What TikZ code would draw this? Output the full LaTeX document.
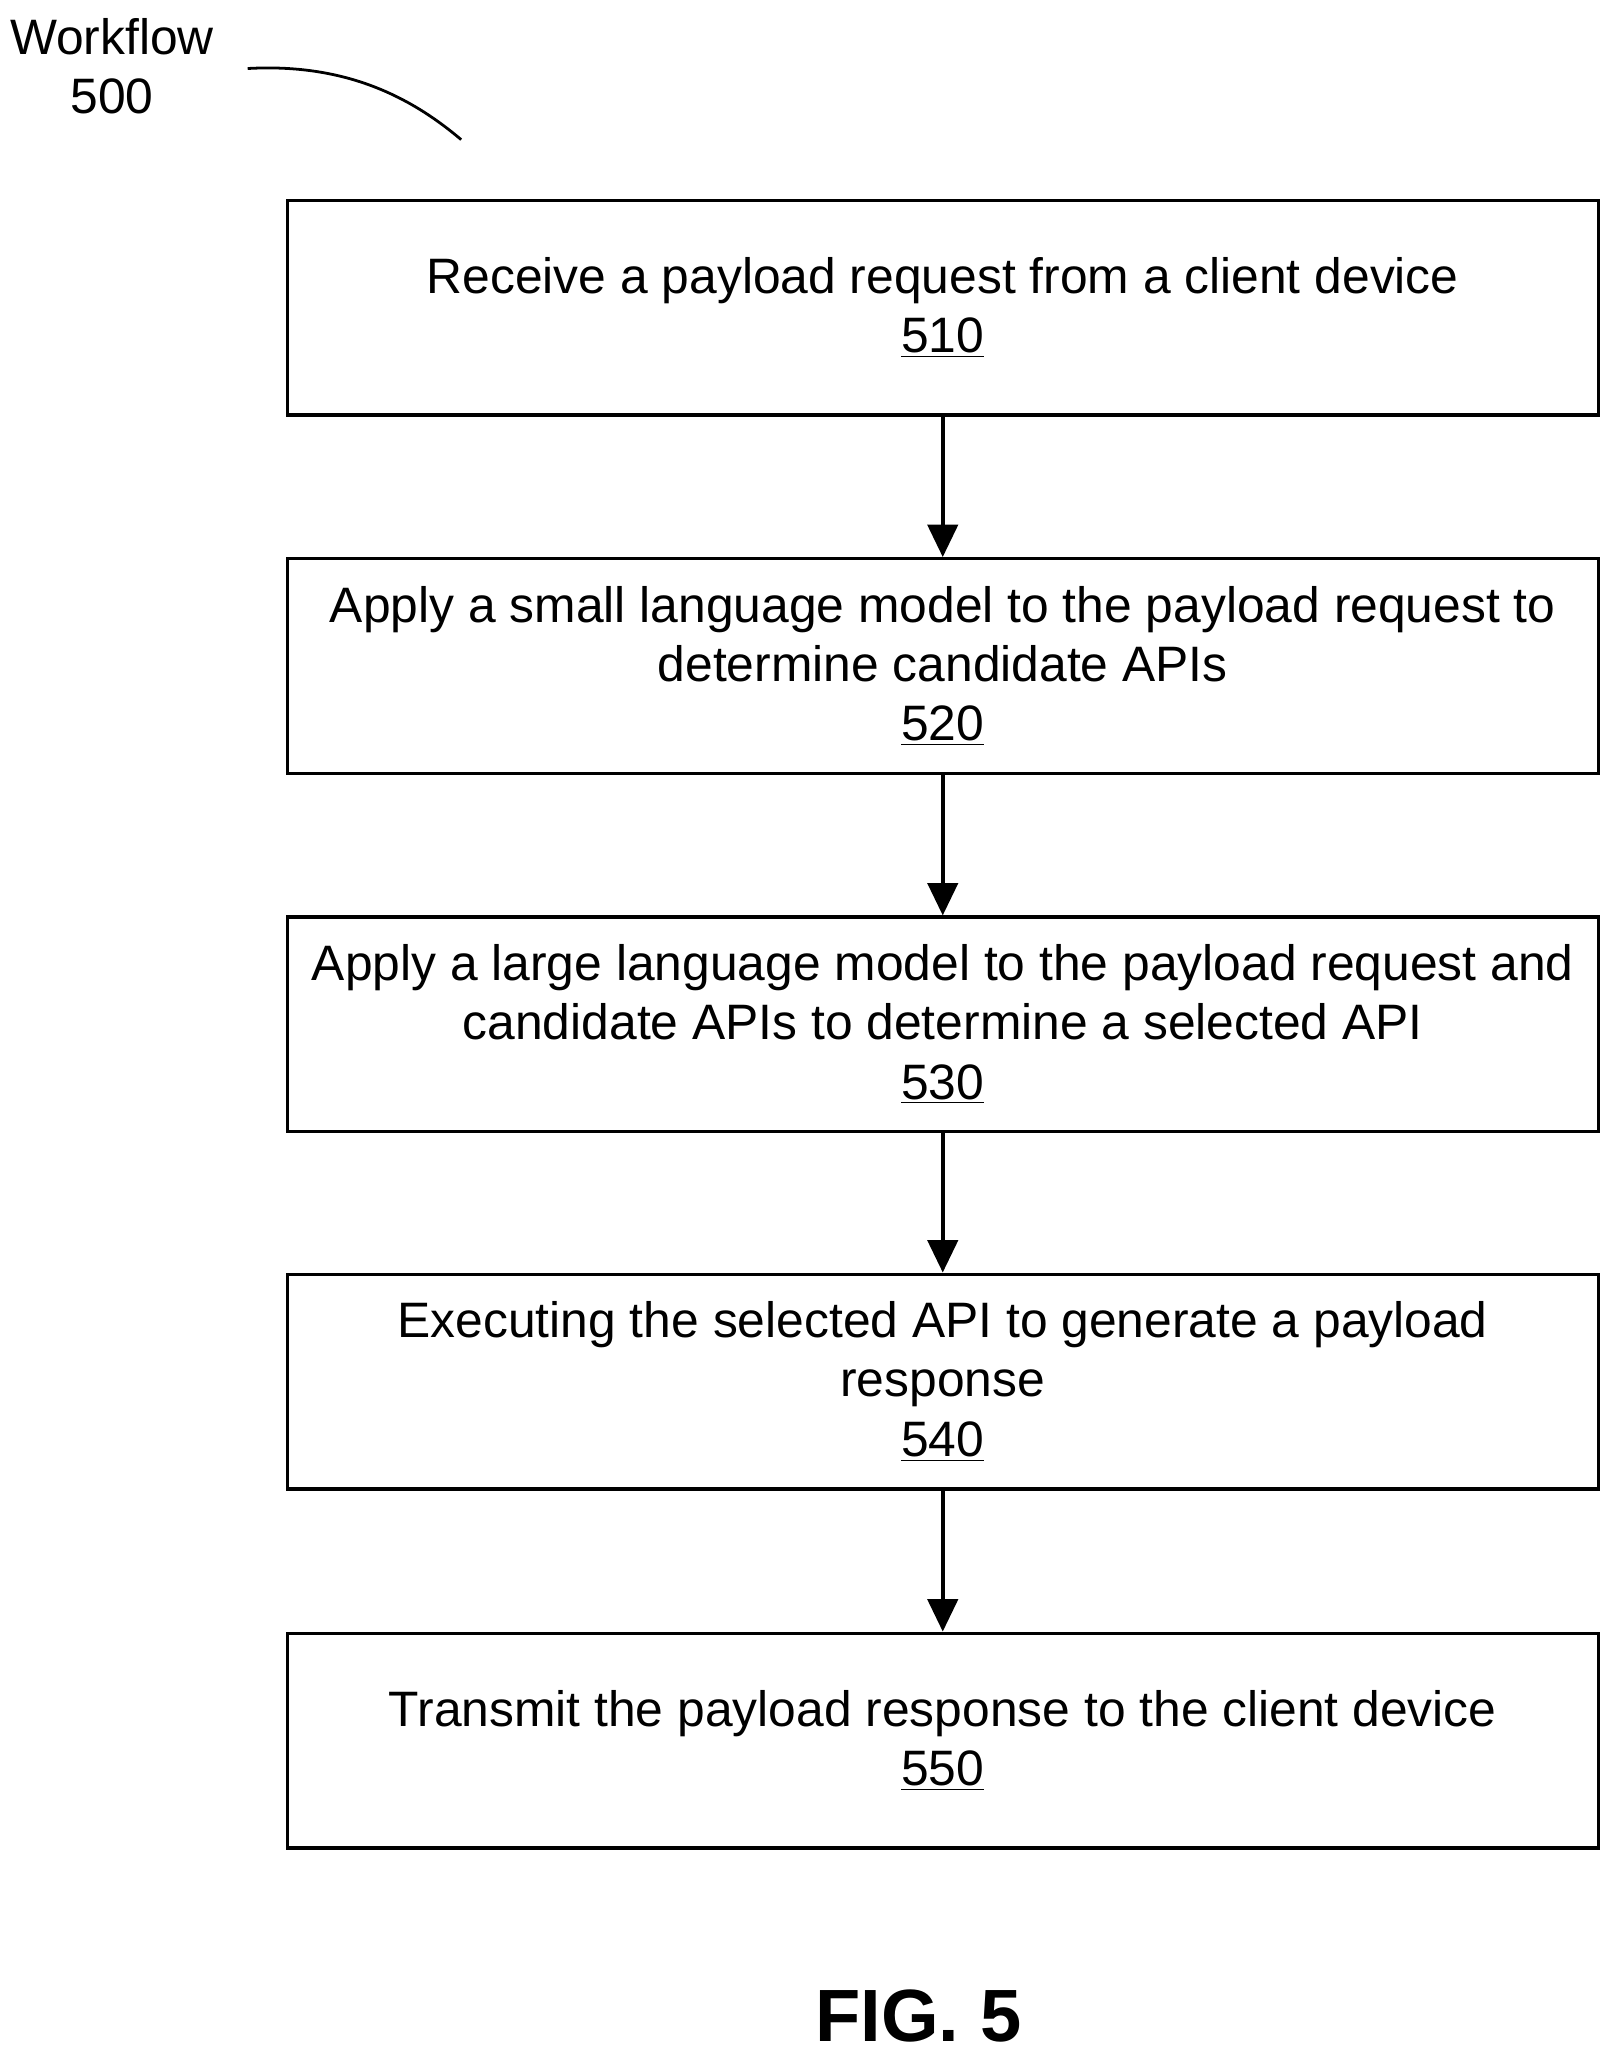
\documentclass[tikz,border=0pt]{standalone}
\usepackage{fontspec}
\setmainfont{Liberation Sans}
\usetikzlibrary{arrows.meta}
\begin{document}
\begin{tikzpicture}[x=0.02cm,y=-0.02cm,
  box/.style={draw,line width=1.4pt,minimum width=19.9cm,minimum height=3.26cm,align=center,inner sep=0pt,font=\fontsize{21.5}{25.6}\selectfont},
  arr/.style={line width=1.8pt,-{Triangle[length=14pt,width=13pt]}}]
\useasboundingbox (0,0) rectangle (1230,1568);
\node[box] (b510) at (715.5,233.5) {Receive a payload request from a client device\\\underline{510}};
\node[box] (b520) at (715.5,505.5) {Apply a small language model to the payload request to\\determine candidate APIs\\\underline{520}};
\node[box] (b530) at (715.5,777.5) {Apply a large language model to the payload request and\\candidate APIs to determine a selected API\\\underline{530}};
\node[box] (b540) at (715.5,1048.5) {Executing the selected API to generate a payload\\response\\\underline{540}};
\node[box] (b550) at (715.5,1321) {Transmit the payload response to the client device\\\underline{550}};
\draw[arr] (b510) -- (b520);
\draw[arr] (b520) -- (b530);
\draw[arr] (b530) -- (b540);
\draw[arr] (b540) -- (b550);
\node[align=center,font=\fontsize{21.5}{25.6}\selectfont] (wf) at (85,50) {Workflow\\500};
\coordinate (c1) at (188,52);
\coordinate (c2) at (350,106);
\draw[line width=1.2pt] (c1) .. controls (260,48) and (310,72) .. (c2);
\node[font=\fontsize{32}{38}\bfseries] (fig) at (697,1530) {FIG. 5};
\end{tikzpicture}
\end{document}
